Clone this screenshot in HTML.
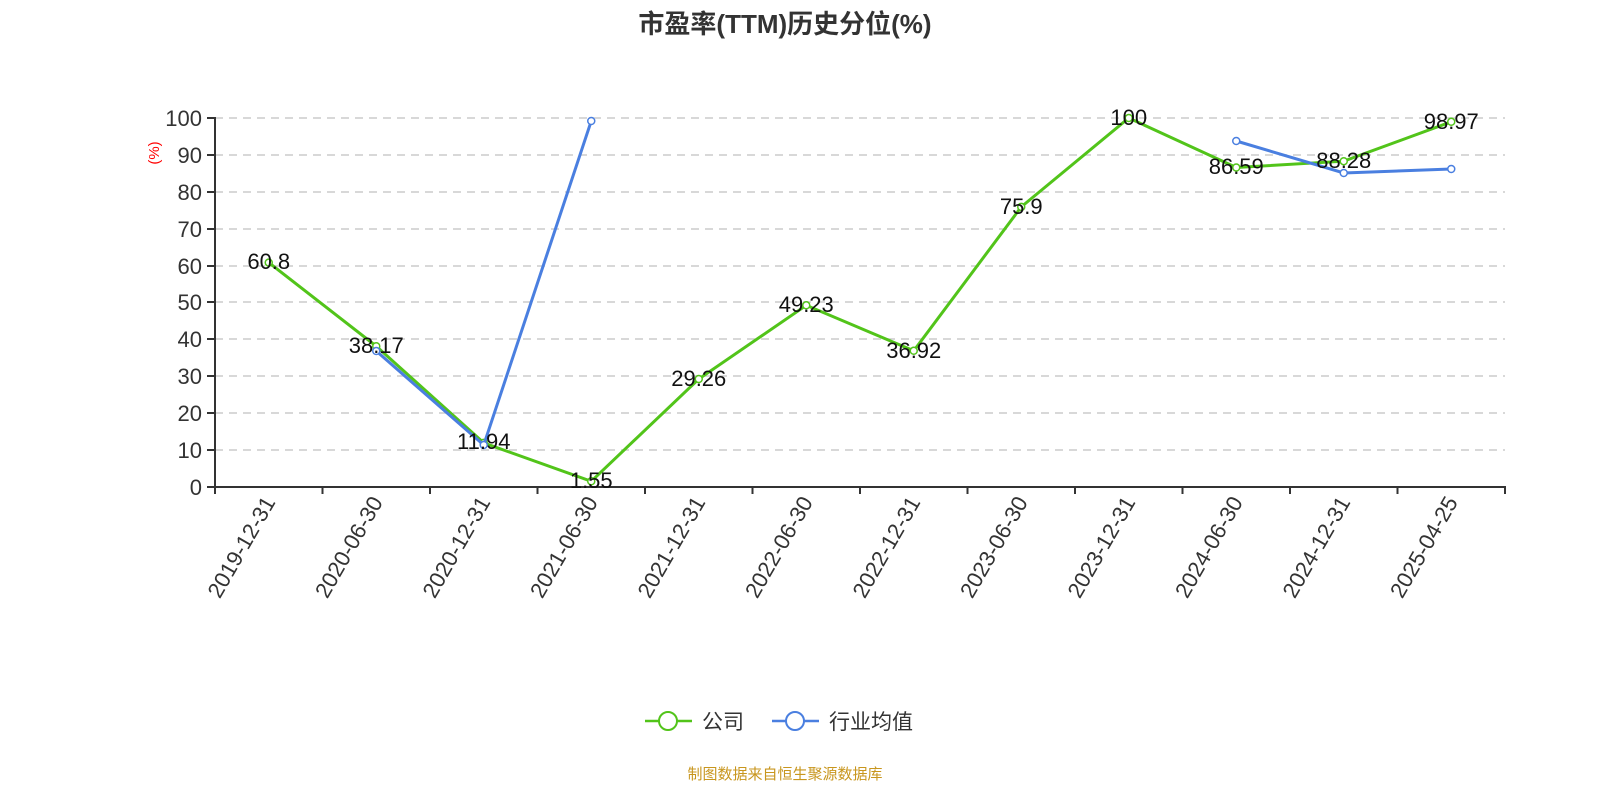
<!DOCTYPE html>
<html><head><meta charset="utf-8"><style>
html,body{margin:0;padding:0;background:#fff;}
svg{display:block;font-family:"Liberation Sans","Noto Sans CJK SC",sans-serif;}
</style></head><body>
<svg width="1600" height="800" xmlns="http://www.w3.org/2000/svg">
<text x="785" y="33" text-anchor="middle" font-size="26" font-weight="bold" fill="#333">市盈率(TTM)历史分位(%)</text>
<g stroke="#ccc" stroke-width="1.5" stroke-dasharray="8,6">
<line x1="215" x2="1505" y1="118" y2="118"/><line x1="215" x2="1505" y1="155" y2="155"/>
<line x1="215" x2="1505" y1="192" y2="192"/><line x1="215" x2="1505" y1="229" y2="229"/>
<line x1="215" x2="1505" y1="266" y2="266"/><line x1="215" x2="1505" y1="302" y2="302"/>
<line x1="215" x2="1505" y1="339" y2="339"/><line x1="215" x2="1505" y1="376" y2="376"/>
<line x1="215" x2="1505" y1="413" y2="413"/><line x1="215" x2="1505" y1="450" y2="450"/>
</g>
<g stroke="#333" stroke-width="2">
<line x1="215" y1="117" x2="215" y2="488"/><line x1="214" y1="487" x2="1506" y2="487"/>
<line x1="207" x2="215" y1="118" y2="118"/><line x1="207" x2="215" y1="155" y2="155"/><line x1="207" x2="215" y1="192" y2="192"/><line x1="207" x2="215" y1="229" y2="229"/><line x1="207" x2="215" y1="266" y2="266"/><line x1="207" x2="215" y1="302" y2="302"/><line x1="207" x2="215" y1="339" y2="339"/><line x1="207" x2="215" y1="376" y2="376"/><line x1="207" x2="215" y1="413" y2="413"/><line x1="207" x2="215" y1="450" y2="450"/><line x1="207" x2="215" y1="487" y2="487"/>
<line x1="215" x2="215" y1="487" y2="494"/><line x1="322.5" x2="322.5" y1="487" y2="494"/><line x1="430" x2="430" y1="487" y2="494"/><line x1="537.5" x2="537.5" y1="487" y2="494"/><line x1="645" x2="645" y1="487" y2="494"/><line x1="752.5" x2="752.5" y1="487" y2="494"/><line x1="860" x2="860" y1="487" y2="494"/><line x1="967.5" x2="967.5" y1="487" y2="494"/><line x1="1075" x2="1075" y1="487" y2="494"/><line x1="1182.5" x2="1182.5" y1="487" y2="494"/><line x1="1290" x2="1290" y1="487" y2="494"/><line x1="1397.5" x2="1397.5" y1="487" y2="494"/><line x1="1505" x2="1505" y1="487" y2="494"/>
</g>
<g font-size="22" fill="#333" text-anchor="end">
<text x="202" y="126">100</text><text x="202" y="163">90</text><text x="202" y="200">80</text><text x="202" y="237">70</text><text x="202" y="274">60</text><text x="202" y="310">50</text><text x="202" y="347">40</text><text x="202" y="384">30</text><text x="202" y="421">20</text><text x="202" y="458">10</text><text x="202" y="495">0</text>
</g>
<text transform="translate(159,153) rotate(-90)" text-anchor="middle" font-size="15" fill="red">(%)</text>
<g font-size="22" fill="#333" text-anchor="end">
<text transform="translate(276,502) rotate(-60)">2019-12-31</text>
<text transform="translate(383.5,502) rotate(-60)">2020-06-30</text>
<text transform="translate(491,502) rotate(-60)">2020-12-31</text>
<text transform="translate(598.5,502) rotate(-60)">2021-06-30</text>
<text transform="translate(706,502) rotate(-60)">2021-12-31</text>
<text transform="translate(813.5,502) rotate(-60)">2022-06-30</text>
<text transform="translate(921,502) rotate(-60)">2022-12-31</text>
<text transform="translate(1028.5,502) rotate(-60)">2023-06-30</text>
<text transform="translate(1136,502) rotate(-60)">2023-12-31</text>
<text transform="translate(1243.5,502) rotate(-60)">2024-06-30</text>
<text transform="translate(1351,502) rotate(-60)">2024-12-31</text>
<text transform="translate(1458.5,502) rotate(-60)">2025-04-25</text>
</g>
<polyline fill="none" stroke="#52c41a" stroke-width="3" points="268.75,262.6 376.25,346.2 483.75,442.9 591.25,481.3 698.75,379.0 806.25,305.3 913.75,350.8 1021.25,206.9 1128.75,118 1236.25,167.5 1343.75,161.2 1451.25,121.8"/>
<g fill="#fff" stroke="#52c41a" stroke-width="1.5">
<circle cx="268.75" cy="262.6" r="3.5"/><circle cx="376.25" cy="346.2" r="3.5"/><circle cx="483.75" cy="442.9" r="3.5"/><circle cx="591.25" cy="481.3" r="3.5"/><circle cx="698.75" cy="379.0" r="3.5"/><circle cx="806.25" cy="305.3" r="3.5"/><circle cx="913.75" cy="350.8" r="3.5"/><circle cx="1021.25" cy="206.9" r="3.5"/><circle cx="1128.75" cy="118" r="3.5"/><circle cx="1236.25" cy="167.5" r="3.5"/><circle cx="1343.75" cy="161.2" r="3.5"/><circle cx="1451.25" cy="121.8" r="3.5"/>
</g>
<g fill="none" stroke="#4a7fe0" stroke-width="3">
<polyline points="376.25,351 483.75,445 591.25,121"/>
<polyline points="1236.25,141 1343.75,173 1451.25,169"/>
</g>
<g fill="#fff" stroke="#4a7fe0" stroke-width="1.5">
<circle cx="376.25" cy="351" r="3.5"/><circle cx="483.75" cy="445" r="3.5"/><circle cx="591.25" cy="121" r="3.5"/><circle cx="1236.25" cy="141" r="3.5"/><circle cx="1343.75" cy="173" r="3.5"/><circle cx="1451.25" cy="169" r="3.5"/>
</g>
<g font-size="22" fill="#111" text-anchor="middle">
<text x="268.75" y="269">60.8</text><text x="376.25" y="353">38.17</text><text x="483.75" y="449">11.94</text><text x="591.25" y="488">1.55</text><text x="698.75" y="386">29.26</text><text x="806.25" y="312">49.23</text><text x="913.75" y="358">36.92</text><text x="1021.25" y="214">75.9</text><text x="1128.75" y="125">100</text><text x="1236.25" y="174">86.59</text><text x="1343.75" y="168">88.28</text><text x="1451.25" y="129">98.97</text>
</g>
<line x1="645" x2="692" y1="721" y2="721" stroke="#52c41a" stroke-width="2.5"/>
<circle cx="668" cy="721" r="9" fill="#fff" stroke="#52c41a" stroke-width="2"/>
<text x="702" y="729" font-size="21" fill="#333">公司</text>
<line x1="772" x2="819" y1="721" y2="721" stroke="#4a7fe0" stroke-width="2.5"/>
<circle cx="795" cy="721" r="9" fill="#fff" stroke="#4a7fe0" stroke-width="2"/>
<text x="829" y="729" font-size="21" fill="#333">行业均值</text>
<text x="785" y="779" text-anchor="middle" font-size="15" fill="#c8961e">制图数据来自恒生聚源数据库</text>
</svg>
</body></html>
